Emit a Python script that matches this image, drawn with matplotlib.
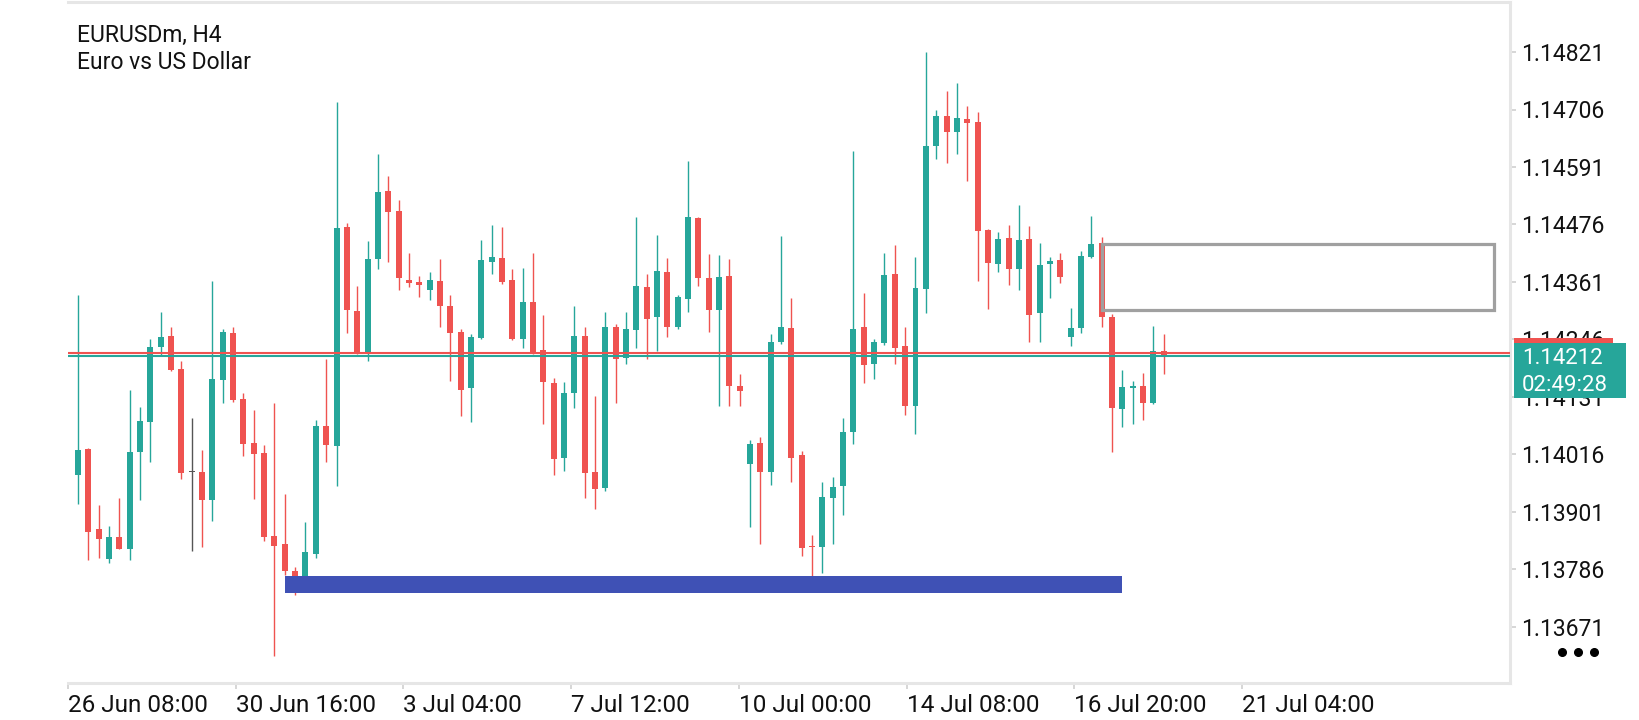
import matplotlib
matplotlib.use("Agg")
import matplotlib.pyplot as plt
import matplotlib.transforms as mtransforms
from matplotlib.patches import Rectangle
from matplotlib.lines import Line2D

# ---------------- data (EURUSDm H4 candles) ----------------
opens = [1.13975, 1.14027, 1.13867, 1.13808, 1.13850, 1.13828, 1.14021, 1.14082, 1.14231, 1.14253,
         1.14187, 1.13982, 1.13981, 1.13926, 1.14165, 1.14259, 1.14127, 1.14039, 1.14018, 1.13853,
         1.13837, 1.13783, 1.13772, 1.13817, 1.14073, 1.14033, 1.14470, 1.14303, 1.14219, 1.14406,
         1.14543, 1.14503, 1.14366, 1.14360, 1.14346, 1.14362, 1.14312, 1.14261, 1.14148, 1.14249,
         1.14401, 1.14409, 1.14365, 1.14247, 1.14321, 1.14225, 1.14159, 1.14009, 1.14138, 1.14253,
         1.13981, 1.13950, 1.14271, 1.14210, 1.14264, 1.14351, 1.14291, 1.14381, 1.14271, 1.14327,
         1.14489, 1.14369, 1.14306, 1.14373, 1.14153, 1.13996, 1.14039, 1.13981, 1.14241, 1.14269,
         1.14014, 1.13831, 1.13832, 1.13930, 1.13954, 1.14060, 1.14271, 1.14197, 1.14239, 1.14377,
         1.14233, 1.14113, 1.14347, 1.14632, 1.14693, 1.14660, 1.14687, 1.14681, 1.14465, 1.14396,
         1.14449, 1.14387, 1.14446, 1.14298, 1.14396, 1.14405, 1.14252, 1.14269, 1.14411, 1.14439,
         1.14291, 1.14107, 1.14150, 1.14152, 1.14118, 1.14222]
highs = [1.14335, 1.14029, 1.13914, 1.13873, 1.13930, 1.14144, 1.14110, 1.14247, 1.14302, 1.14271,
         1.14202, 1.14089, 1.14025, 1.14362, 1.14267, 1.14270, 1.14139, 1.14105, 1.14035, 1.14118,
         1.13937, 1.13791, 1.13881, 1.14086, 1.14207, 1.14722, 1.14479, 1.14353, 1.14443, 1.14618,
         1.14573, 1.14524, 1.14419, 1.14372, 1.14381, 1.14406, 1.14336, 1.14268, 1.14257, 1.14445,
         1.14475, 1.14470, 1.14387, 1.14389, 1.14419, 1.14295, 1.14169, 1.14161, 1.14313, 1.14272,
         1.14133, 1.14300, 1.14276, 1.14300, 1.14490, 1.14377, 1.14455, 1.14409, 1.14335, 1.14603,
         1.14490, 1.14417, 1.14415, 1.14407, 1.14177, 1.14045, 1.14050, 1.14257, 1.14453, 1.14330,
         1.14023, 1.13854, 1.13961, 1.13971, 1.14089, 1.14622, 1.14339, 1.14246, 1.14419, 1.14435,
         1.14271, 1.14411, 1.14821, 1.14705, 1.14743, 1.14758, 1.14713, 1.14702, 1.14467, 1.14461,
         1.14475, 1.14516, 1.14473, 1.14439, 1.14411, 1.14419, 1.14309, 1.14422, 1.14493, 1.14451,
         1.14297, 1.14185, 1.14164, 1.14179, 1.14273, 1.14258]
lows = [1.13917, 1.13805, 1.13809, 1.13799, 1.13826, 1.13805, 1.13924, 1.14001, 1.14212, 1.14184,
        1.13967, 1.13822, 1.13832, 1.13883, 1.14118, 1.14121, 1.14014, 1.13927, 1.13843, 1.13613,
        1.13775, 1.13735, 1.13765, 1.13809, 1.14001, 1.13952, 1.14259, 1.14218, 1.14204, 1.14387,
        1.14401, 1.14345, 1.14351, 1.14331, 1.14325, 1.14270, 1.14163, 1.14093, 1.14082, 1.14247,
        1.14377, 1.14357, 1.14245, 1.14229, 1.14218, 1.14078, 1.13975, 1.13982, 1.14108, 1.13930,
        1.13907, 1.13942, 1.14118, 1.14197, 1.14229, 1.14208, 1.14222, 1.14251, 1.14268, 1.14300,
        1.14353, 1.14261, 1.14113, 1.14113, 1.14113, 1.13871, 1.13838, 1.13956, 1.14236, 1.13961,
        1.13813, 1.13774, 1.13780, 1.13838, 1.13896, 1.14036, 1.14158, 1.14167, 1.14235, 1.14196,
        1.14095, 1.14057, 1.14299, 1.14606, 1.14598, 1.14618, 1.14562, 1.14363, 1.14307, 1.14381,
        1.14354, 1.14344, 1.14241, 1.14241, 1.14329, 1.14359, 1.14234, 1.14259, 1.14410, 1.14271,
        1.14021, 1.14070, 1.14077, 1.14085, 1.14117, 1.14177]
closes = [1.14025, 1.13862, 1.13847, 1.13850, 1.13828, 1.14020, 1.14083, 1.14231, 1.14251, 1.14185,
          1.13980, 1.13982, 1.13926, 1.14167, 1.14261, 1.14125, 1.14037, 1.14018, 1.13850, 1.13834,
          1.13783, 1.13772, 1.13820, 1.14073, 1.14035, 1.14469, 1.14304, 1.14219, 1.14406, 1.14541,
          1.14500, 1.14368, 1.14360, 1.14354, 1.14364, 1.14313, 1.14259, 1.14146, 1.14251, 1.14405,
          1.14411, 1.14361, 1.14246, 1.14321, 1.14219, 1.14161, 1.14007, 1.14139, 1.14253, 1.13980,
          1.13947, 1.14271, 1.14208, 1.14266, 1.14353, 1.14288, 1.14383, 1.14271, 1.14330, 1.14491,
          1.14368, 1.14304, 1.14371, 1.14153, 1.14142, 1.14037, 1.13981, 1.14241, 1.14271, 1.14009,
          1.13829, 1.13830, 1.13931, 1.13951, 1.14061, 1.14267, 1.14195, 1.14241, 1.14375, 1.14229,
          1.14113, 1.14348, 1.14634, 1.14693, 1.14661, 1.14689, 1.14679, 1.14463, 1.14398, 1.14446,
          1.14386, 1.14445, 1.14296, 1.14395, 1.14403, 1.14371, 1.14269, 1.14412, 1.14437, 1.14290,
          1.14109, 1.14151, 1.14153, 1.14119, 1.14222, 1.14212]

time_labels = ["26 Jun 08:00", "30 Jun 16:00", "3 Jul 04:00", "7 Jul 12:00",
               "10 Jul 00:00", "14 Jul 08:00", "16 Jul 20:00", "21 Jul 04:00"]
price_ticks = [1.14821, 1.14706, 1.14591, 1.14476, 1.14361, 1.14246,
               1.14131, 1.14016, 1.13901, 1.13786, 1.13671]

bid_price = 1.14212
ask_price = 1.14219
countdown = "02:49:28"

# support bar (blue) and resistance zone (grey box)
support_start, support_end = 20, 101
support_top, support_bottom = 1.13772, 1.13739
zone_start, zone_end = 99, 137
zone_top, zone_bottom = 1.14438, 1.14306

symbol_title = "EURUSDm, H4"
symbol_desc = "Euro vs US Dollar"

# ---------------- styling ----------------
BULL = "#26a69a"
BEAR = "#ef5350"
DOJI = "#555555"
FRAME = "#e6e6e6"
FONT = ["Roboto", "DejaVu Sans"]
plt.rcParams["font.family"] = FONT

W, H = 1640, 720
fig = plt.figure(figsize=(W / 100, H / 100), dpi=100)
fig.patch.set_facecolor("white")
L, R, T, B = 68, 1510, 2, 683
ax = fig.add_axes([L / W, 1 - B / H, (R - L) / W, (B - T) / H])
ax.set_facecolor("white")

n = len(opens)
xs = list(range(n))
body_w = 0.58
min_body = 0.000022

for i in xs:
    o, h, l, c = opens[i], highs[i], lows[i], closes[i]
    if c > o:
        col = BULL
    elif c < o:
        col = BEAR
    else:
        col = DOJI
    ax.vlines(i, l, h, color=col, lw=1.0, zorder=2)
    bot = min(o, c)
    hgt = max(abs(c - o), min_body)
    if c == o:
        bot = o - min_body / 2
    ax.bar(i, hgt, bottom=bot, width=body_w, color=col, edgecolor="none", zorder=3)

# bid / ask lines
ax.axhline(ask_price, color=BEAR, lw=1.5, zorder=4)
ax.axhline(bid_price, color=BULL, lw=1.5, zorder=4)

# support bar
ax.add_patch(Rectangle((support_start, support_bottom), support_end - support_start,
                       support_top - support_bottom, facecolor="#3f51b5",
                       edgecolor="none", zorder=5))
# resistance zone
ax.add_patch(Rectangle((zone_start, zone_bottom), zone_end - zone_start,
                       zone_top - zone_bottom, facecolor="none",
                       edgecolor="#a0a0a0", lw=2.3, zorder=5))

ax.set_xlim(-0.97, 138.5)
ax.set_ylim(1.13559, 1.14921)

# x ticks
label_step = 16.22
xt = [-0.97 + k * label_step for k in range(len(time_labels))]
ax.set_xticks(xt)
ax.set_xticklabels(time_labels, ha="left", fontsize=17.5, color="#111111")
ax.tick_params(axis="x", length=4, width=1.2, color="#d0d0d0", pad=4)

# y ticks
ax.yaxis.tick_right()
ax.set_yticks(price_ticks)
ax.set_yticklabels([f"{p:.5f}" for p in price_ticks], fontsize=16.5, color="#111111")
ax.tick_params(axis="y", length=4, width=1.2, color="#d0d0d0", pad=4)

for s in ["top", "right", "bottom"]:
    ax.spines[s].set_color(FRAME)
    ax.spines[s].set_linewidth(2.2)
ax.spines["left"].set_visible(False)

# title
ax.text(0.0063, 0.9413, symbol_title, transform=ax.transAxes, fontsize=16.5,
        color="#111111", va="baseline", ha="left")
ax.text(0.0063, 0.9016, symbol_desc, transform=ax.transAxes, fontsize=16.5,
        color="#111111", va="baseline", ha="left")

# price label box
blend = mtransforms.blended_transform_factory(ax.transAxes, ax.transData)
ax.add_patch(Rectangle((1.0028, 1.14200), 0.0687, 0.00048, transform=blend,
                       facecolor=BEAR, edgecolor="none", clip_on=False, zorder=10))
ax.add_patch(Rectangle((1.0028, bid_price - 0.00083), 0.0777, 0.00110, transform=blend,
                       facecolor=BULL, edgecolor="none", clip_on=False, zorder=11))
ax.text(1.0083, bid_price - 0.00005, f"{bid_price:.5f}", transform=blend, fontsize=16,
        color="white", va="center", ha="left", zorder=12, clip_on=False)
ax.text(1.0083, bid_price - 0.00058, countdown, transform=blend, fontsize=16,
        color="white", va="center", ha="left", zorder=12, clip_on=False)

# menu dots
fig.add_artist(Line2D([1562 / W, 1578 / W, 1594 / W], [1 - 652 / H] * 3,
                      transform=fig.transFigure, marker="o", ls="none",
                      markersize=5.5, color="black"))

fig.savefig("out.png", dpi=100, facecolor="white")
